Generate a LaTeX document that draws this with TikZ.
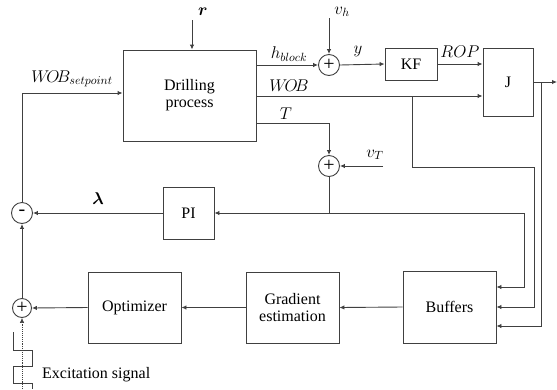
\RequirePackage{fix-cm}
\documentclass[tikz,border=0pt]{standalone}
\usepackage{fontspec}
\usepackage{amsmath}
\usepackage{bm}
\setmainfont{Liberation Serif}
\usetikzlibrary{arrows.meta,calc}
\begin{document}
\begin{tikzpicture}[x=1pt,y=-1pt,
  line/.style={draw=black!75, line width=0.9pt},
  arr/.style={line, -{Latex[length=5pt,width=4.5pt]}},
  blk/.style={draw=black!75, line width=0.9pt, rectangle, inner sep=0pt, align=center, font=\fontsize{16}{18}\selectfont},
  sumnode/.style={draw=black!75, line width=0.9pt, circle, inner sep=0pt, minimum size=21pt, font=\fontsize{20}{20}\selectfont},
  lbl/.style={font=\fontsize{17}{19}\selectfont, inner sep=0pt}
]
\useasboundingbox (0,0) rectangle (557,389);
% blocks
\node[blk, minimum width=133pt, minimum height=91pt] (dp) at (189.5,95.5) {Drilling\\[-1pt]process};
\node[blk, minimum width=52pt, minimum height=32pt] (kf) at (411,64) {KF};
\node[blk, minimum width=50pt, minimum height=68pt] (J) at (508,82) {J};
\node[blk, minimum width=51pt, minimum height=52pt] (pi) at (188.5,213) {PI};
\node[blk, minimum width=93pt, minimum height=71pt] (opt) at (134.5,307.5) {Optimizer};
\node[blk, minimum width=93pt, minimum height=71pt] (grad) at (292.5,307.5) {Gradient\\[-1pt]estimation};
\node[blk, minimum width=93pt, minimum height=72pt] (buf) at (449.5,307) {Buffers};
% summing junctions
\node[sumnode] (sumh) at (329,65) {+};
\node[sumnode] (sumt) at (329,166) {+};
\node[sumnode] (minus) at (22,213) {-};
\node[sumnode, minimum size=19pt] (plus) at (22,308) {+};
% coordinates
\coordinate (rtop) at (192,20);
\coordinate (vhtop) at (329,18);
\coordinate (vtr) at (383,166);
\coordinate (wspy) at (0,93);
\coordinate (woby) at (0,96);
\coordinate (ty) at (0,123);
\coordinate (br1) at (412,96);
\coordinate (br1b) at (412,167);
\coordinate (br1c) at (534,167);
\coordinate (tj) at (329,213);
\coordinate (tr) at (524,213);
\coordinate (jout) at (557,82);
\coordinate (jbr) at (541,82);
\coordinate (exbot) at (22,389);
% connectors
\draw[arr] (rtop) -- (rtop |- dp.north);
\node[lbl] (rl) at (203,12) {$\bm{r}$};
\draw[arr] (minus.north) |- (dp.west |- wspy);
\node[lbl] (wspl) at (72,79) {$W\!O\!B_{setpoint}$};
\draw[arr] (dp.east |- sumh) -- (sumh);
\node[lbl] (hbl) at (289,54) {$h_{block}$};
\draw[arr] (vhtop) -- (sumh.north);
\node[lbl] (vhl) at (342,12) {$v_h$};
\draw[arr] (sumh.east) -- (kf.west);
\node[lbl] (yl) at (358,51) {$y$};
\draw[arr] (kf.east) -- (J.west |- kf);
\node[lbl] (ropl) at (460,52) {$ROP$};
\draw[arr] (dp.east |- woby) -- (J.west |- woby);
\node[lbl] (wobl) at (289,86) {$W\!O\!B$};
\draw[arr] (br1) -- (br1b) -- (br1c) -- (br1c |- buf.east) -- (buf.east);
\draw[arr] (dp.east |- ty) -| (sumt.north);
\node[lbl] (tl) at (286,114) {$T$};
\draw[arr] (vtr) -- (sumt.east);
\node[lbl] (vtl) at (375,155) {$v_T$};
\draw[line] (sumt.south) -- (tj);
\draw[arr] (tj) -- (pi.east);
\draw[arr] (tj) -- (tr) -- (tr |- 0,287) -- (buf.east |- 0,287);
\draw[arr] (J.east |- jout) -- (jout);
\draw[arr] (jbr) -- (jbr |- 0,326) -- (buf.east |- 0,326);
\draw[arr] (pi.west) -- (minus.east);
\node[lbl] (laml) at (98,199) {$\bm{\lambda}$};
\draw[arr] (buf.west) -- (grad.east);
\draw[arr] (grad.west) -- (opt.east);
\draw[arr] (opt.west) -- (plus.east);
\draw[arr] (plus.north) -- (minus.south);
\draw[line, densely dotted, line width=0.6pt, -{Latex[length=5pt,width=4.5pt]}] (exbot) -- (plus.south);
\draw[line, line width=0.7pt] (13,332) -- (13,350) -- (32,350) -- (32,366) -- (13,366) -- (13,383) -- (32,383) -- (32,389);
\node[anchor=west, inner sep=0pt, font=\fontsize{16}{18}\selectfont] (exl) at (42,375) {Excitation signal};
\end{tikzpicture}
\end{document}
